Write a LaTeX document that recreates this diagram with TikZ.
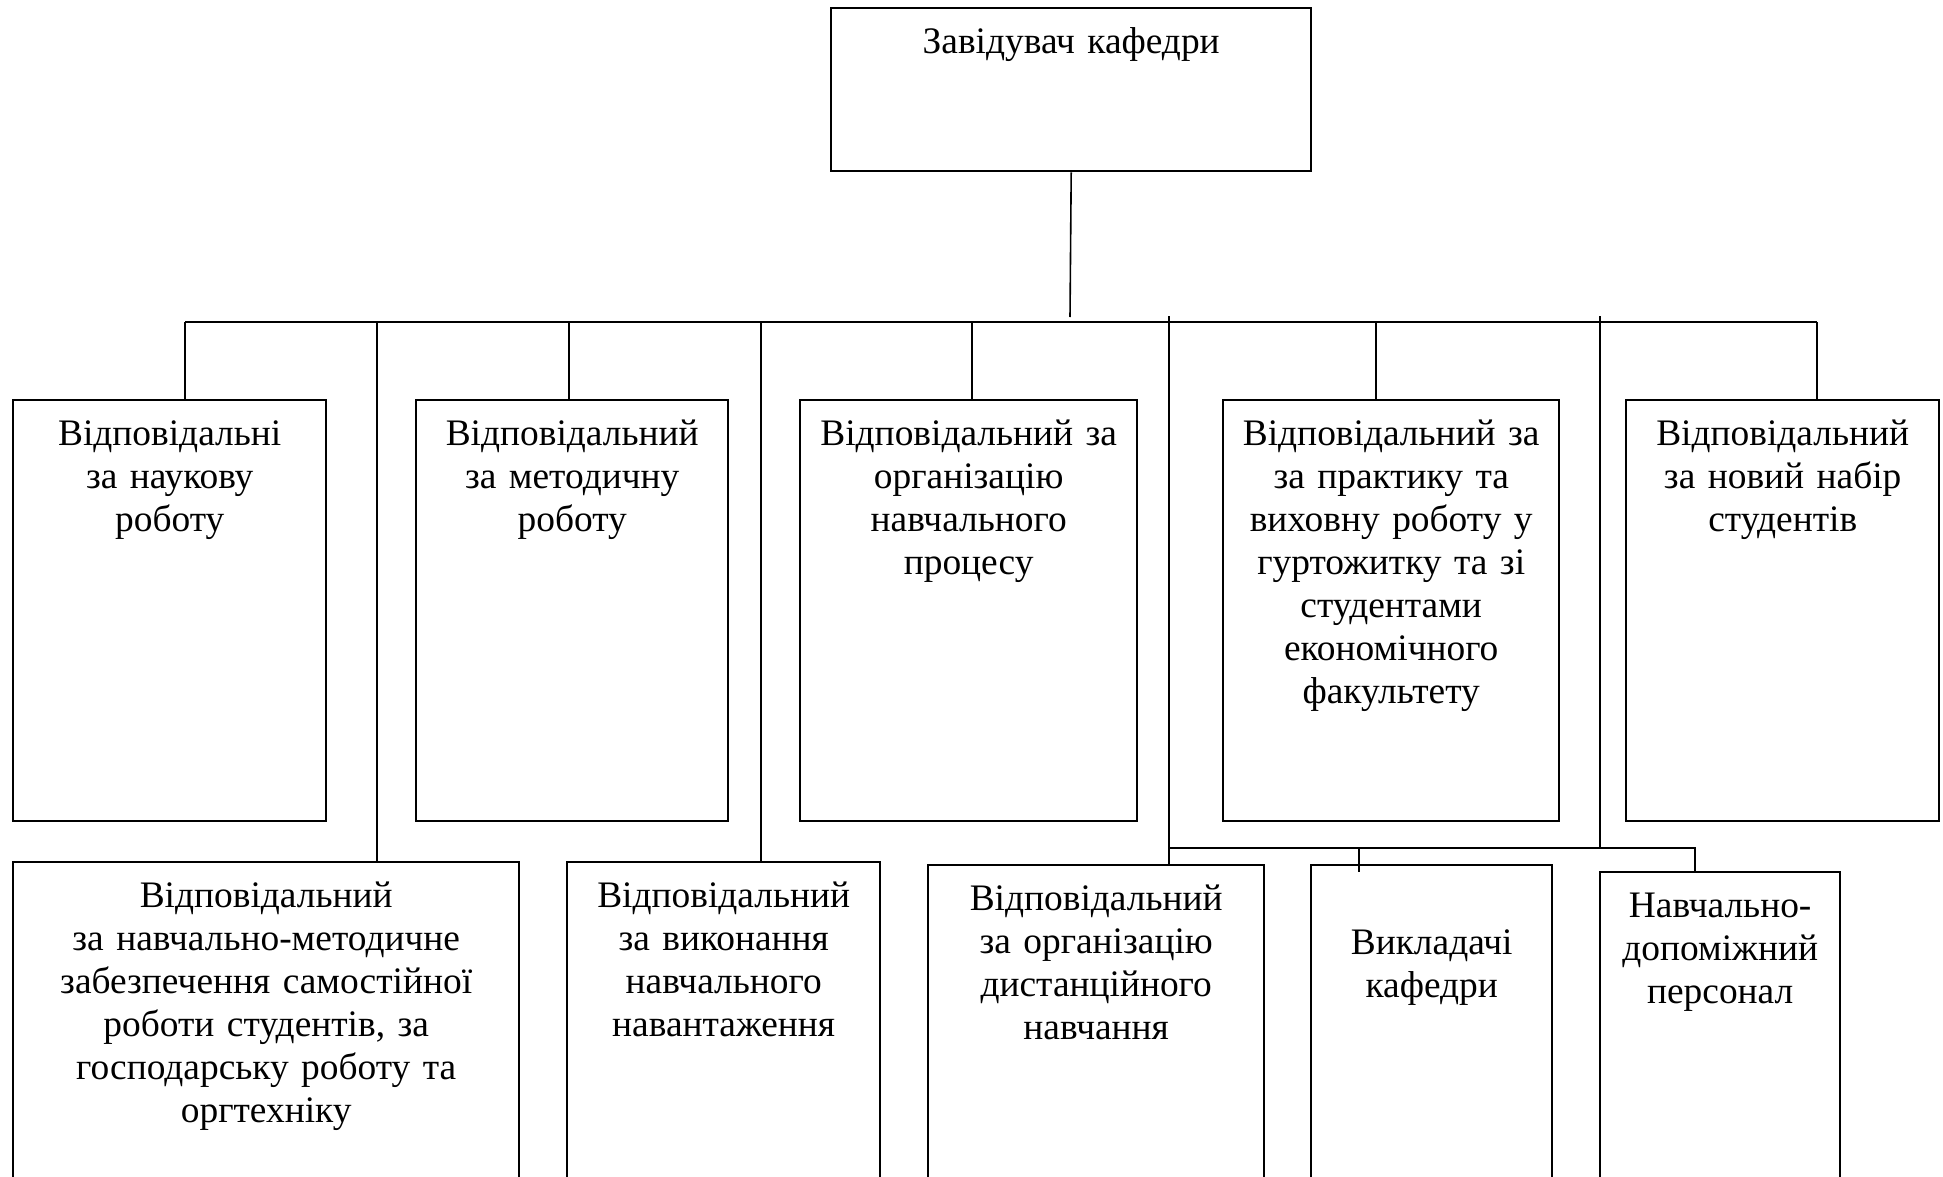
\documentclass[tikz,border=0pt]{standalone}
\usepackage{fontspec}
\setmainfont{Liberation Serif}
\usetikzlibrary{positioning}
\usetikzlibrary{calc}

\tikzset{
    unit/.style={draw, line width=1.2pt, anchor=north west, inner sep=0pt},
    caption/.style={anchor=north, align=center, text width=260pt, inner sep=0pt,
        text height=23pt, font=\fontsize{18.7}{21.5}\selectfont},
    link/.style={line width=0.8pt}
}

\begin{document}
\begin{tikzpicture}[x=0.5pt,y=-0.5pt]
                \useasboundingbox (0,0) rectangle (1943,1177);
                \clip (0,0) rectangle (1943,1177);

                % Define the boxes of the upper rows
                \node[unit, minimum width=240pt, minimum height=81.5pt,
                    label={[caption, name=headT]north:Завідувач кафедри}] (head) at (830,7) {};

                \node[unit, minimum width=156.5pt, minimum height=210.5pt,
                    label={[caption, name=naukaT]north:Відповідальні\\за наукову\\роботу}] (nauka) at (12,399) {};
                \node[unit, minimum width=156pt, minimum height=210.5pt,
                    label={[caption, name=metodT]north:Відповідальний\\за методичну\\роботу}] (metod) at (415,399) {};
                \node[unit, minimum width=168.5pt, minimum height=210.5pt,
                    label={[caption, name=procesT]north:Відповідальний за\\організацію\\навчального\\процесу}] (proces) at (799,399) {};
                \node[unit, minimum width=168pt, minimum height=210.5pt,
                    label={[caption, name=praktT]north:Відповідальний за\\за практику та\\виховну роботу у\\гуртожитку та зі\\студентами\\економічного\\факультету}] (prakt) at (1222,399) {};
                \node[unit, minimum width=156.5pt, minimum height=210.5pt,
                    label={[caption, name=nabirT]north:Відповідальний\\за новий набір\\студентів}] (nabir) at (1625,399) {};

                % Define the boxes of the lower row
                \node[unit, minimum width=253pt, minimum height=170pt,
                    label={[caption, name=samostT]north:Відповідальний\\за навчально-методичне\\забезпечення самостійної\\роботи студентів, за\\господарську роботу та\\оргтехніку}] (samost) at (12,861) {};
                \node[unit, minimum width=156.5pt, minimum height=170pt,
                    label={[caption, name=navantT]north:Відповідальний\\за виконання\\навчального\\навантаження}] (navant) at (566,861) {};
                \node[unit, minimum width=168pt, minimum height=170pt,
                    label={[caption, name=distT]north:Відповідальний\\за організацію\\дистанційного\\навчання}] (dist) at (927,864) {};
                \node[unit, minimum width=120.5pt, minimum height=170pt,
                    label={[caption, name=vyklT, text height=45pt]north:Викладачі\\кафедри}] (vykl) at (1310,864) {};
                \node[unit, minimum width=120pt, minimum height=170pt,
                    label={[caption, name=personalT]north:Навчально-\\допоміжний\\персонал}] (personal) at (1599,871) {};

                % Define the points of the lines
                \coordinate (busL) at (185,322);
                \coordinate (busR) at (1817,322);
                \coordinate (headEnd) at (1070,317);
                \coordinate (v1) at (377,322);
                \coordinate (v2) at (761,322);
                \coordinate (v3) at (1169,316);
                \coordinate (v4) at (1600,316);
                \coordinate (sub) at (1169,848);
                \coordinate (subR) at (1695,848);
                \coordinate (subM) at (1359,848);

                % Draw the lines
                \draw[link] (head.south) -- (headEnd);
                \draw[link] (busL) -- (busR);
                \foreach \unitname/\x in {nauka/185, metod/569, proces/972, prakt/1376, nabir/1817}
                    {
                    \coordinate (drop-\unitname) at (\x,322);
                    \draw[link] (drop-\unitname) -- (drop-\unitname |- \unitname.north);
                    }
                \draw[link] (v1) -- (v1 |- samost.north);
                \draw[link] (v2) -- (v2 |- navant.north);
                \draw[link] (v3) -- (v3 |- dist.north);
                \draw[link] (v4) -- (v4 |- sub);
                \draw[link] (sub) -- (subR) -- (subR |- personal.north);
                \draw[link] (subM) -- ([yshift=-4pt]subM |- vykl.north);

\end{tikzpicture}
\end{document}
